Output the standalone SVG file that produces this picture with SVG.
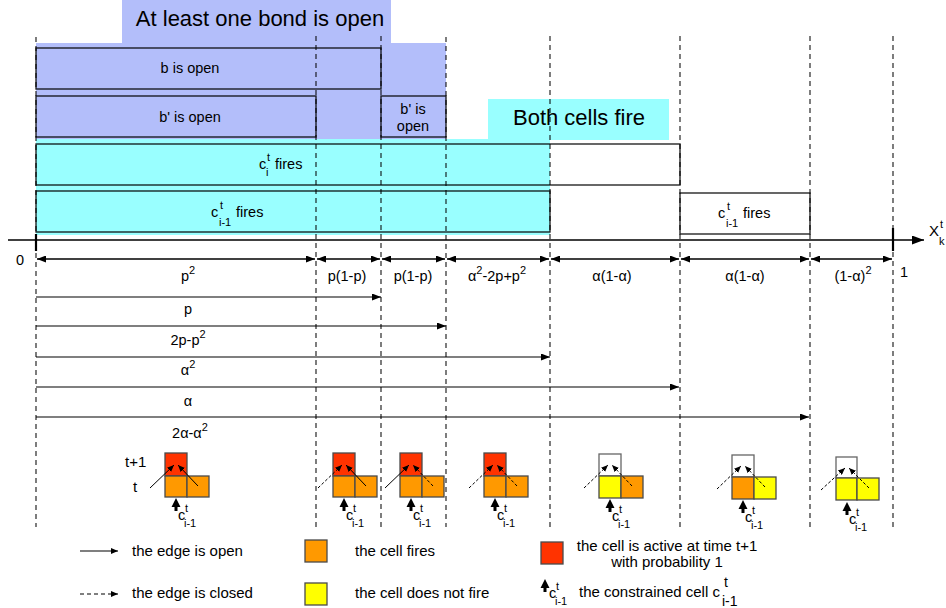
<svg xmlns="http://www.w3.org/2000/svg" width="946" height="608" viewBox="0 0 946 608">
<style>
text{font-family:"Liberation Sans",Arial,Helvetica,sans-serif;fill:#000}
.l{font-size:14.5px}
.lg{font-size:15px}
.big{font-size:22px}
.m{text-anchor:middle}
.s{font-size:11px}
.dv{stroke:#000;stroke-opacity:.85;stroke-width:1.2;stroke-dasharray:5,4;fill:none}
.box{fill:none;stroke:#000;stroke-opacity:.85;stroke-width:1.4}
.blue{fill:#B3BEFA}
.cyan{fill:#99FFFF}
.cell{stroke:#4a4a4a;stroke-width:1.3}
.r{fill:#FF3300}.o{fill:#FF9900}.y{fill:#FFFF00}.w{fill:#FFFFFF;stroke:#666}
.ga{stroke:#000;stroke-width:1;fill:none;marker-end:url(#gh)}
.gd{stroke-dasharray:3,2}
.iv{stroke:#000;stroke-width:1.3;fill:none;marker-start:url(#ah);marker-end:url(#ah)}
.cu{stroke:#000;stroke-width:1.2;fill:none;marker-end:url(#ah)}
</style>
<defs>
<marker id="ah" markerUnits="userSpaceOnUse" markerWidth="9" markerHeight="7" refX="9" refY="3.5" orient="auto-start-reverse"><path d="M0,0L9,3.5L0,7z" fill="#000"/></marker>
<marker id="gh" markerUnits="userSpaceOnUse" markerWidth="7" markerHeight="6" refX="7" refY="3" orient="auto"><path d="M0,0L7,3L0,6z" fill="#000"/></marker>
<marker id="axh" markerUnits="userSpaceOnUse" markerWidth="12" markerHeight="9" refX="12" refY="4.5" orient="auto"><path d="M0,0L12,4.5L0,9z" fill="#000"/></marker>
<path id="carr" d="M11,45L15.5,54L12.5,54L12.5,58L9.5,58L9.5,54L6.5,54Z" fill="#000"/>
</defs>

<g id="regions">
<rect class="blue" x="122" y="0" width="269" height="44"/>
<rect class="blue" x="36" y="43" width="410" height="97"/>
<rect class="cyan" x="36" y="139" width="514" height="96"/>
<rect class="cyan" x="488" y="99" width="181" height="41"/>
</g>

<g id="connectors">
<g id="gridlines">
<line class="dv" x1="36" y1="37" x2="36" y2="527"/>
<line class="dv" x1="316" y1="36" x2="316" y2="527"/>
<line class="dv" x1="381" y1="36" x2="381" y2="527"/>
<line class="dv" x1="446" y1="37" x2="446" y2="527"/>
<line class="dv" x1="550" y1="36" x2="550" y2="527"/>
<line class="dv" x1="680" y1="36" x2="680" y2="527"/>
<line class="dv" x1="810" y1="36" x2="810" y2="527"/>
<line class="dv" x1="893" y1="36" x2="893" y2="527"/>
</g>
<g id="axis">
<line x1="8" y1="240" x2="924" y2="240" stroke="#000" stroke-width="1.6" marker-end="url(#axh)"/>
<line x1="36" y1="234" x2="36" y2="251" stroke="#000" stroke-width="2.2"/>
<line x1="893" y1="228" x2="893" y2="251" stroke="#000" stroke-width="2.2"/>
</g>
<g id="intervals">
<line class="iv" x1="37" y1="259" x2="315" y2="259"/>
<line class="iv" x1="317" y1="259" x2="380" y2="259"/>
<line class="iv" x1="382" y1="259" x2="445" y2="259"/>
<line class="iv" x1="447" y1="259" x2="549" y2="259"/>
<line class="iv" x1="551" y1="259" x2="679" y2="259"/>
<line class="iv" x1="681" y1="259" x2="809" y2="259"/>
<line class="iv" x1="811" y1="259" x2="892" y2="259"/>
</g>
<g id="cumulative">
<line class="cu" x1="36" y1="297" x2="381" y2="297"/>
<line class="cu" x1="36" y1="326" x2="446" y2="326"/>
<line class="cu" x1="36" y1="357" x2="550" y2="357"/>
<line class="cu" x1="36" y1="387" x2="679" y2="387"/>
<line class="cu" x1="36" y1="417" x2="809" y2="417"/>
</g>
</g>

<g id="box-b-open">
<rect class="box" x="36" y="48" width="345" height="41"/>
<text class="l m" x="190" y="73">b is open</text>
</g>
<g id="box-bp-open">
<rect class="box" x="36" y="96" width="280" height="41"/>
<text class="l m" x="190" y="122">b' is open</text>
</g>
<g id="box-bp-open-2">
<rect class="box" x="381" y="96" width="65" height="41"/>
<text class="l m" x="413" y="114">b' is</text>
<text class="l m" x="413" y="131">open</text>
</g>
<g id="box-ci-fires">
<rect class="box" x="36" y="144" width="644" height="41"/>
<text class="l" x="259" y="169">c</text><text class="s" x="267" y="161">t</text><text class="s" x="266" y="176">i</text>
<text class="l" x="275" y="169">fires</text>
</g>
<g id="box-ci1-fires">
<rect class="box" x="36" y="191" width="514" height="41"/>
<text class="l" x="211" y="217">c</text><text class="s" x="220" y="209">t</text><text class="s" x="219" y="226">i-1</text>
<text class="l" x="236" y="217">fires</text>
</g>
<g id="box-ci1-fires-2">
<rect class="box" x="680" y="193" width="130" height="41"/>
<text class="l" x="718" y="218">c</text><text class="s" x="727" y="210">t</text><text class="s" x="726" y="227">i-1</text>
<text class="l" x="743" y="218">fires</text>
</g>
<g id="header-bond">
<text class="big m" x="260" y="26">At least one bond is open</text>
</g>
<g id="header-both">
<text class="big m" x="579" y="125">Both cells fire</text>
</g>

<g id="axis-labels">
<text class="l" x="16" y="265">0</text>
<text class="l" x="900" y="277">1</text>
<text class="lg" x="929" y="236" font-size="17">X</text><text class="s" x="940" y="228">t</text><text class="s" x="939" y="245">k</text>
</g>

<g id="interval-labels">
<text class="l m" x="188" y="281">p<tspan class="s" dy="-7">2</tspan></text>
<text class="l m" x="347" y="281">p(1-p)</text>
<text class="l m" x="413" y="281">p(1-p)</text>
<text class="l m" x="497" y="281">α<tspan class="s" dy="-7">2</tspan><tspan dy="7">-2p+p</tspan><tspan class="s" dy="-7">2</tspan></text>
<text class="l m" x="612" y="281">α(1-α)</text>
<text class="l m" x="745" y="281">α(1-α)</text>
<text class="l m" x="853" y="281">(1-α)<tspan class="s" dy="-7">2</tspan></text>
</g>
<g id="cumulative-labels">
<text class="l m" x="188" y="314">p</text>
<text class="l m" x="188" y="345">2p-p<tspan class="s" dy="-7">2</tspan></text>
<text class="l m" x="188" y="375">α<tspan class="s" dy="-7">2</tspan></text>
<text class="l m" x="188" y="406">α</text>
<text class="l m" x="190" y="438">2α-α<tspan class="s" dy="-7">2</tspan></text>
</g>

<g id="glyph1" transform="translate(165,453)">
<rect class="cell r" x="0" y="0" width="22" height="23"/>
<rect class="cell o" x="0" y="23" width="22" height="21"/>
<rect class="cell o" x="22" y="23" width="22" height="21"/>
<line class="ga" x1="-15" y1="35" x2="9" y2="12"/>
<line class="ga" x1="33" y1="33" x2="13" y2="12"/>
<use href="#carr"/>
<text class="l" x="13" y="67">c</text><text class="s" x="20" y="59">t</text><text class="s" x="19" y="74">i-1</text>
<text class="lg" x="-40" y="14">t+1</text>
<text class="lg" x="-32" y="39">t</text>
</g>
<g id="glyph2" transform="translate(333,453)">
<rect class="cell r" x="0" y="0" width="22" height="23"/>
<rect class="cell o" x="0" y="23" width="22" height="21"/>
<rect class="cell o" x="22" y="23" width="22" height="21"/>
<line class="ga gd" x1="-15" y1="35" x2="9" y2="12"/>
<line class="ga" x1="33" y1="33" x2="13" y2="12"/>
<use href="#carr"/>
<text class="l" x="13" y="67">c</text><text class="s" x="20" y="59">t</text><text class="s" x="19" y="74">i-1</text>
</g>
<g id="glyph3" transform="translate(400,453)">
<rect class="cell r" x="0" y="0" width="22" height="23"/>
<rect class="cell o" x="0" y="23" width="22" height="21"/>
<rect class="cell o" x="22" y="23" width="22" height="21"/>
<line class="ga" x1="-15" y1="35" x2="9" y2="12"/>
<line class="ga gd" x1="33" y1="33" x2="13" y2="12"/>
<use href="#carr"/>
<text class="l" x="13" y="67">c</text><text class="s" x="20" y="59">t</text><text class="s" x="19" y="74">i-1</text>
</g>
<g id="glyph4" transform="translate(484,453)">
<rect class="cell r" x="0" y="0" width="22" height="23"/>
<rect class="cell o" x="0" y="23" width="22" height="21"/>
<rect class="cell o" x="22" y="23" width="22" height="21"/>
<line class="ga gd" x1="-15" y1="35" x2="9" y2="12"/>
<line class="ga gd" x1="33" y1="33" x2="13" y2="12"/>
<use href="#carr"/>
<text class="l" x="13" y="67">c</text><text class="s" x="20" y="59">t</text><text class="s" x="19" y="74">i-1</text>
</g>
<g id="glyph5" transform="translate(599,454)">
<rect class="cell w" x="0" y="0" width="22" height="22"/>
<rect class="cell y" x="0" y="22" width="22" height="22"/>
<rect class="cell o" x="22" y="22" width="22" height="22"/>
<line class="ga gd" x1="-15" y1="34" x2="9" y2="11"/>
<line class="ga gd" x1="33" y1="32" x2="13" y2="11"/>
<use href="#carr"/>
<text class="l" x="13" y="67">c</text><text class="s" x="20" y="59">t</text><text class="s" x="19" y="74">i-1</text>
</g>
<g id="glyph6" transform="translate(732,455)">
<rect class="cell w" x="0" y="0" width="22" height="22"/>
<rect class="cell o" x="0" y="22" width="22" height="22"/>
<rect class="cell y" x="22" y="22" width="22" height="22"/>
<line class="ga gd" x1="-15" y1="34" x2="9" y2="11"/>
<line class="ga gd" x1="33" y1="32" x2="13" y2="11"/>
<use href="#carr"/>
<text class="l" x="13" y="67">c</text><text class="s" x="20" y="59">t</text><text class="s" x="19" y="74">i-1</text>
</g>
<g id="glyph7" transform="translate(836,457)">
<rect class="cell w" x="0" y="0" width="21" height="21"/>
<rect class="cell y" x="0" y="21" width="21" height="22"/>
<rect class="cell y" x="21" y="21" width="22" height="22"/>
<line class="ga gd" x1="-15" y1="33" x2="9" y2="11"/>
<line class="ga gd" x1="33" y1="31" x2="13" y2="11"/>
<use href="#carr"/>
<text class="l" x="13" y="67">c</text><text class="s" x="20" y="59">t</text><text class="s" x="19" y="74">i-1</text>
</g>

<g id="legend">
<g id="legend-open">
<line x1="80" y1="551" x2="118" y2="551" stroke="#555" stroke-width="1.3" marker-end="url(#gh)"/>
<text class="lg" x="132" y="556">the edge is open</text>
</g>
<g id="legend-closed">
<line x1="80" y1="594" x2="118" y2="594" stroke="#555" stroke-width="1.3" stroke-dasharray="4,3" marker-end="url(#gh)"/>
<text class="lg" x="132" y="598">the edge is closed</text>
</g>
<g id="legend-fires">
<rect class="cell o" x="305" y="540" width="22" height="22"/>
<text class="lg" x="355" y="556">the cell fires</text>
</g>
<g id="legend-notfire">
<rect class="cell y" x="305" y="583" width="22" height="22"/>
<text class="lg" x="355" y="598">the cell does not fire</text>
</g>
<g id="legend-active">
<rect class="cell r" x="541" y="542" width="22" height="22"/>
<text class="lg m" x="667" y="551">the cell is active at time t+1</text>
<text class="lg m" x="667" y="567">with probability 1</text>
</g>
<g id="legend-constrained">
<use href="#carr" transform="translate(534,534)"/>
<text class="l" x="549" y="598">c</text><text class="s" x="556" y="590">t</text><text class="s" x="555" y="605">i-1</text>
<text class="lg" x="579" y="597">the constrained cell c</text><text x="724" y="587" font-size="14">t</text><text x="722" y="606" font-size="14">i-1</text>
</g>
</g>
</svg>
